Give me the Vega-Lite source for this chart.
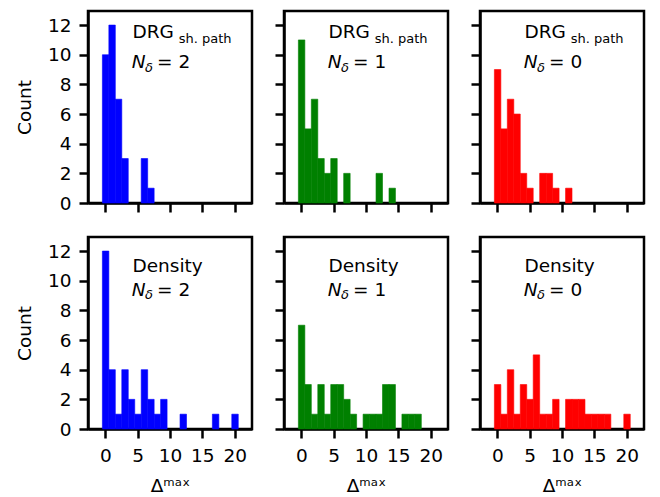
{
  "$schema": "https://vega.github.io/schema/vega-lite/v6.json",
  "padding": {"left": 14, "top": 9, "right": 5, "bottom": 5},
  "background": "white",
  "datasets": {
    "bins": [
      {"p": "TL", "lo": -0.45, "hi": 0.55, "n": 10},
      {"p": "TL", "lo": 0.55, "hi": 1.55, "n": 12},
      {"p": "TL", "lo": 1.55, "hi": 2.55, "n": 7},
      {"p": "TL", "lo": 2.55, "hi": 3.55, "n": 3},
      {"p": "TL", "lo": 5.55, "hi": 6.55, "n": 3},
      {"p": "TL", "lo": 6.55, "hi": 7.55, "n": 1},

      {"p": "TM", "lo": -0.45, "hi": 0.55, "n": 11},
      {"p": "TM", "lo": 0.55, "hi": 1.55, "n": 5},
      {"p": "TM", "lo": 1.55, "hi": 2.55, "n": 7},
      {"p": "TM", "lo": 2.55, "hi": 3.55, "n": 3},
      {"p": "TM", "lo": 3.55, "hi": 4.55, "n": 2},
      {"p": "TM", "lo": 4.55, "hi": 5.55, "n": 3},
      {"p": "TM", "lo": 6.55, "hi": 7.55, "n": 2},
      {"p": "TM", "lo": 11.55, "hi": 12.55, "n": 2},
      {"p": "TM", "lo": 13.55, "hi": 14.55, "n": 1},

      {"p": "TR", "lo": -0.45, "hi": 0.55, "n": 9},
      {"p": "TR", "lo": 0.55, "hi": 1.55, "n": 5},
      {"p": "TR", "lo": 1.55, "hi": 2.55, "n": 7},
      {"p": "TR", "lo": 2.55, "hi": 3.55, "n": 6},
      {"p": "TR", "lo": 3.55, "hi": 4.55, "n": 2},
      {"p": "TR", "lo": 4.55, "hi": 5.55, "n": 1},
      {"p": "TR", "lo": 6.55, "hi": 7.55, "n": 2},
      {"p": "TR", "lo": 7.55, "hi": 8.55, "n": 2},
      {"p": "TR", "lo": 8.55, "hi": 9.55, "n": 1},
      {"p": "TR", "lo": 10.55, "hi": 11.55, "n": 1},

      {"p": "BL", "lo": -0.45, "hi": 0.55, "n": 12},
      {"p": "BL", "lo": 0.55, "hi": 1.55, "n": 4},
      {"p": "BL", "lo": 1.55, "hi": 2.55, "n": 1},
      {"p": "BL", "lo": 2.55, "hi": 3.55, "n": 4},
      {"p": "BL", "lo": 3.55, "hi": 4.55, "n": 2},
      {"p": "BL", "lo": 4.55, "hi": 5.55, "n": 1},
      {"p": "BL", "lo": 5.55, "hi": 6.55, "n": 4},
      {"p": "BL", "lo": 6.55, "hi": 7.55, "n": 2},
      {"p": "BL", "lo": 7.55, "hi": 8.55, "n": 1},
      {"p": "BL", "lo": 8.55, "hi": 9.55, "n": 2},
      {"p": "BL", "lo": 11.55, "hi": 12.55, "n": 1},
      {"p": "BL", "lo": 16.55, "hi": 17.55, "n": 1},
      {"p": "BL", "lo": 19.55, "hi": 20.55, "n": 1},

      {"p": "BM", "lo": -0.45, "hi": 0.55, "n": 7},
      {"p": "BM", "lo": 0.55, "hi": 1.55, "n": 3},
      {"p": "BM", "lo": 1.55, "hi": 2.55, "n": 1},
      {"p": "BM", "lo": 2.55, "hi": 3.55, "n": 3},
      {"p": "BM", "lo": 3.55, "hi": 4.55, "n": 1},
      {"p": "BM", "lo": 4.55, "hi": 5.55, "n": 3},
      {"p": "BM", "lo": 5.55, "hi": 6.55, "n": 3},
      {"p": "BM", "lo": 6.55, "hi": 7.55, "n": 2},
      {"p": "BM", "lo": 7.55, "hi": 8.55, "n": 1},
      {"p": "BM", "lo": 9.55, "hi": 10.55, "n": 1},
      {"p": "BM", "lo": 10.55, "hi": 11.55, "n": 1},
      {"p": "BM", "lo": 11.55, "hi": 12.55, "n": 1},
      {"p": "BM", "lo": 12.55, "hi": 13.55, "n": 3},
      {"p": "BM", "lo": 13.55, "hi": 14.55, "n": 3},
      {"p": "BM", "lo": 15.55, "hi": 16.55, "n": 1},
      {"p": "BM", "lo": 16.55, "hi": 17.55, "n": 1},
      {"p": "BM", "lo": 17.55, "hi": 18.55, "n": 1},

      {"p": "BR", "lo": -0.45, "hi": 0.55, "n": 3},
      {"p": "BR", "lo": 0.55, "hi": 1.55, "n": 1},
      {"p": "BR", "lo": 1.55, "hi": 2.55, "n": 4},
      {"p": "BR", "lo": 2.55, "hi": 3.55, "n": 1},
      {"p": "BR", "lo": 3.55, "hi": 4.55, "n": 3},
      {"p": "BR", "lo": 4.55, "hi": 5.55, "n": 2},
      {"p": "BR", "lo": 5.55, "hi": 6.55, "n": 5},
      {"p": "BR", "lo": 6.55, "hi": 7.55, "n": 1},
      {"p": "BR", "lo": 7.55, "hi": 8.55, "n": 1},
      {"p": "BR", "lo": 8.55, "hi": 9.55, "n": 2},
      {"p": "BR", "lo": 10.55, "hi": 11.55, "n": 2},
      {"p": "BR", "lo": 11.55, "hi": 12.55, "n": 2},
      {"p": "BR", "lo": 12.55, "hi": 13.55, "n": 2},
      {"p": "BR", "lo": 13.55, "hi": 14.55, "n": 1},
      {"p": "BR", "lo": 14.55, "hi": 15.55, "n": 1},
      {"p": "BR", "lo": 15.55, "hi": 16.55, "n": 1},
      {"p": "BR", "lo": 16.55, "hi": 17.55, "n": 1},
      {"p": "BR", "lo": 19.55, "hi": 20.55, "n": 1}
    ],
    "notes": [
      {"p": "TL", "main": "DRG", "sub": "sh. path", "eq": "= 2"},
      {"p": "TM", "main": "DRG", "sub": "sh. path", "eq": "= 1"},
      {"p": "TR", "main": "DRG", "sub": "sh. path", "eq": "= 0"},
      {"p": "BL", "main": "Density", "sub": "", "eq": "= 2"},
      {"p": "BM", "main": "Density", "sub": "", "eq": "= 1"},
      {"p": "BR", "main": "Density", "sub": "", "eq": "= 0"}
    ]
  },
  "columns": 3,
  "spacing": {"row": 34, "column": 32},
  "bounds": "flush",
  "concat": [
    {
      "width": 164, "height": 192,
      "layer": [
        {"data": {"name": "bins"}, "transform": [{"filter": "datum.p === 'TL'"}],
         "mark": {"type": "bar", "color": "#0000ff", "stroke": "#0000ff", "strokeWidth": 0.6, "orient": "vertical"},
         "encoding": {
           "x": {"field": "lo", "type": "quantitative", "scale": {"domain": [-1.9, 21.9], "nice": false, "zero": false},
                 "axis": {"values": [0, 5, 10, 15, 20], "labels": false, "title": null}},
           "x2": {"field": "hi"},
           "y": {"field": "n", "type": "quantitative", "scale": {"domain": [0, 12.95], "nice": false},
                 "axis": {"values": [0, 2, 4, 6, 8, 10, 12], "title": "Count"}},
           "y2": {"datum": 0}}},
        {"data": {"name": "notes"}, "transform": [{"filter": "datum.p === 'TL'"}],
         "mark": {"type": "text", "align": "left", "baseline": "alphabetic", "fontSize": 18.5},
         "encoding": {"x": {"datum": 4.2, "axis": {"values": [0, 5, 10, 15, 20], "labels": false, "title": null}},
                      "y": {"datum": 11.1, "axis": {"values": [0, 2, 4, 6, 8, 10, 12], "title": "Count"}},
                      "text": {"field": "main"}}},
        {"data": {"name": "notes"}, "transform": [{"filter": "datum.p === 'TL'"}],
         "mark": {"type": "text", "align": "left", "baseline": "alphabetic", "fontSize": 13},
         "encoding": {"x": {"datum": 11.35, "axis": {"values": [0, 5, 10, 15, 20], "labels": false, "title": null}},
                      "y": {"datum": 10.8, "axis": {"values": [0, 2, 4, 6, 8, 10, 12], "title": "Count"}},
                      "text": {"field": "sub"}}},
        {"data": {"name": "notes"}, "transform": [{"filter": "datum.p === 'TL'"}],
         "mark": {"type": "text", "align": "left", "baseline": "alphabetic", "fontSize": 18.5, "fontStyle": "italic"},
         "encoding": {"x": {"datum": 4.1, "axis": {"values": [0, 5, 10, 15, 20], "labels": false, "title": null}},
                      "y": {"datum": 9.1, "axis": {"values": [0, 2, 4, 6, 8, 10, 12], "title": "Count"}},
                      "text": {"value": "N"}}},
        {"data": {"name": "notes"}, "transform": [{"filter": "datum.p === 'TL'"}],
         "mark": {"type": "text", "align": "left", "baseline": "alphabetic", "fontSize": 13, "fontStyle": "italic"},
         "encoding": {"x": {"datum": 6.15, "axis": {"values": [0, 5, 10, 15, 20], "labels": false, "title": null}},
                      "y": {"datum": 8.85, "axis": {"values": [0, 2, 4, 6, 8, 10, 12], "title": "Count"}},
                      "text": {"value": "δ"}}},
        {"data": {"name": "notes"}, "transform": [{"filter": "datum.p === 'TL'"}],
         "mark": {"type": "text", "align": "left", "baseline": "alphabetic", "fontSize": 18.5},
         "encoding": {"x": {"datum": 8.0, "axis": {"values": [0, 5, 10, 15, 20], "labels": false, "title": null}},
                      "y": {"datum": 9.1, "axis": {"values": [0, 2, 4, 6, 8, 10, 12], "title": "Count"}},
                      "text": {"field": "eq"}}}
      ]
    },
    {
      "width": 164, "height": 192,
      "layer": [
        {"data": {"name": "bins"}, "transform": [{"filter": "datum.p === 'TM'"}],
         "mark": {"type": "bar", "color": "#008000", "stroke": "#008000", "strokeWidth": 0.6, "orient": "vertical"},
         "encoding": {
           "x": {"field": "lo", "type": "quantitative", "scale": {"domain": [-1.9, 21.9], "nice": false, "zero": false},
                 "axis": {"values": [0, 5, 10, 15, 20], "labels": false, "title": null}},
           "x2": {"field": "hi"},
           "y": {"field": "n", "type": "quantitative", "scale": {"domain": [0, 12.95], "nice": false},
                 "axis": {"values": [0, 2, 4, 6, 8, 10, 12], "labels": false, "title": null}},
           "y2": {"datum": 0}}},
        {"data": {"name": "notes"}, "transform": [{"filter": "datum.p === 'TM'"}],
         "mark": {"type": "text", "align": "left", "baseline": "alphabetic", "fontSize": 18.5},
         "encoding": {"x": {"datum": 4.2, "axis": {"values": [0, 5, 10, 15, 20], "labels": false, "title": null}},
                      "y": {"datum": 11.1, "axis": {"values": [0, 2, 4, 6, 8, 10, 12], "labels": false, "title": null}},
                      "text": {"field": "main"}}},
        {"data": {"name": "notes"}, "transform": [{"filter": "datum.p === 'TM'"}],
         "mark": {"type": "text", "align": "left", "baseline": "alphabetic", "fontSize": 13},
         "encoding": {"x": {"datum": 11.35, "axis": {"values": [0, 5, 10, 15, 20], "labels": false, "title": null}},
                      "y": {"datum": 10.8, "axis": {"values": [0, 2, 4, 6, 8, 10, 12], "labels": false, "title": null}},
                      "text": {"field": "sub"}}},
        {"data": {"name": "notes"}, "transform": [{"filter": "datum.p === 'TM'"}],
         "mark": {"type": "text", "align": "left", "baseline": "alphabetic", "fontSize": 18.5, "fontStyle": "italic"},
         "encoding": {"x": {"datum": 4.1, "axis": {"values": [0, 5, 10, 15, 20], "labels": false, "title": null}},
                      "y": {"datum": 9.1, "axis": {"values": [0, 2, 4, 6, 8, 10, 12], "labels": false, "title": null}},
                      "text": {"value": "N"}}},
        {"data": {"name": "notes"}, "transform": [{"filter": "datum.p === 'TM'"}],
         "mark": {"type": "text", "align": "left", "baseline": "alphabetic", "fontSize": 13, "fontStyle": "italic"},
         "encoding": {"x": {"datum": 6.15, "axis": {"values": [0, 5, 10, 15, 20], "labels": false, "title": null}},
                      "y": {"datum": 8.85, "axis": {"values": [0, 2, 4, 6, 8, 10, 12], "labels": false, "title": null}},
                      "text": {"value": "δ"}}},
        {"data": {"name": "notes"}, "transform": [{"filter": "datum.p === 'TM'"}],
         "mark": {"type": "text", "align": "left", "baseline": "alphabetic", "fontSize": 18.5},
         "encoding": {"x": {"datum": 8.0, "axis": {"values": [0, 5, 10, 15, 20], "labels": false, "title": null}},
                      "y": {"datum": 9.1, "axis": {"values": [0, 2, 4, 6, 8, 10, 12], "labels": false, "title": null}},
                      "text": {"field": "eq"}}}
      ]
    },
    {
      "width": 164, "height": 192,
      "layer": [
        {"data": {"name": "bins"}, "transform": [{"filter": "datum.p === 'TR'"}],
         "mark": {"type": "bar", "color": "#ff0000", "stroke": "#ff0000", "strokeWidth": 0.6, "orient": "vertical"},
         "encoding": {
           "x": {"field": "lo", "type": "quantitative", "scale": {"domain": [-1.9, 21.9], "nice": false, "zero": false},
                 "axis": {"values": [0, 5, 10, 15, 20], "labels": false, "title": null}},
           "x2": {"field": "hi"},
           "y": {"field": "n", "type": "quantitative", "scale": {"domain": [0, 12.95], "nice": false},
                 "axis": {"values": [0, 2, 4, 6, 8, 10, 12], "labels": false, "title": null}},
           "y2": {"datum": 0}}},
        {"data": {"name": "notes"}, "transform": [{"filter": "datum.p === 'TR'"}],
         "mark": {"type": "text", "align": "left", "baseline": "alphabetic", "fontSize": 18.5},
         "encoding": {"x": {"datum": 4.2, "axis": {"values": [0, 5, 10, 15, 20], "labels": false, "title": null}},
                      "y": {"datum": 11.1, "axis": {"values": [0, 2, 4, 6, 8, 10, 12], "labels": false, "title": null}},
                      "text": {"field": "main"}}},
        {"data": {"name": "notes"}, "transform": [{"filter": "datum.p === 'TR'"}],
         "mark": {"type": "text", "align": "left", "baseline": "alphabetic", "fontSize": 13},
         "encoding": {"x": {"datum": 11.35, "axis": {"values": [0, 5, 10, 15, 20], "labels": false, "title": null}},
                      "y": {"datum": 10.8, "axis": {"values": [0, 2, 4, 6, 8, 10, 12], "labels": false, "title": null}},
                      "text": {"field": "sub"}}},
        {"data": {"name": "notes"}, "transform": [{"filter": "datum.p === 'TR'"}],
         "mark": {"type": "text", "align": "left", "baseline": "alphabetic", "fontSize": 18.5, "fontStyle": "italic"},
         "encoding": {"x": {"datum": 4.1, "axis": {"values": [0, 5, 10, 15, 20], "labels": false, "title": null}},
                      "y": {"datum": 9.1, "axis": {"values": [0, 2, 4, 6, 8, 10, 12], "labels": false, "title": null}},
                      "text": {"value": "N"}}},
        {"data": {"name": "notes"}, "transform": [{"filter": "datum.p === 'TR'"}],
         "mark": {"type": "text", "align": "left", "baseline": "alphabetic", "fontSize": 13, "fontStyle": "italic"},
         "encoding": {"x": {"datum": 6.15, "axis": {"values": [0, 5, 10, 15, 20], "labels": false, "title": null}},
                      "y": {"datum": 8.85, "axis": {"values": [0, 2, 4, 6, 8, 10, 12], "labels": false, "title": null}},
                      "text": {"value": "δ"}}},
        {"data": {"name": "notes"}, "transform": [{"filter": "datum.p === 'TR'"}],
         "mark": {"type": "text", "align": "left", "baseline": "alphabetic", "fontSize": 18.5},
         "encoding": {"x": {"datum": 8.0, "axis": {"values": [0, 5, 10, 15, 20], "labels": false, "title": null}},
                      "y": {"datum": 9.1, "axis": {"values": [0, 2, 4, 6, 8, 10, 12], "labels": false, "title": null}},
                      "text": {"field": "eq"}}}
      ]
    },
    {
      "width": 164, "height": 192,
      "layer": [
        {"data": {"name": "bins"}, "transform": [{"filter": "datum.p === 'BL'"}],
         "mark": {"type": "bar", "color": "#0000ff", "stroke": "#0000ff", "strokeWidth": 0.6, "orient": "vertical"},
         "encoding": {
           "x": {"field": "lo", "type": "quantitative", "scale": {"domain": [-1.9, 21.9], "nice": false, "zero": false},
                 "axis": {"values": [0, 5, 10, 15, 20], "title": "Δᵐᵃˣ"}},
           "x2": {"field": "hi"},
           "y": {"field": "n", "type": "quantitative", "scale": {"domain": [0, 12.95], "nice": false},
                 "axis": {"values": [0, 2, 4, 6, 8, 10, 12], "title": "Count"}},
           "y2": {"datum": 0}}},
        {"data": {"name": "notes"}, "transform": [{"filter": "datum.p === 'BL'"}],
         "mark": {"type": "text", "align": "left", "baseline": "alphabetic", "fontSize": 18.5},
         "encoding": {"x": {"datum": 4.2, "axis": {"values": [0, 5, 10, 15, 20], "title": "Δᵐᵃˣ"}},
                      "y": {"datum": 10.6, "axis": {"values": [0, 2, 4, 6, 8, 10, 12], "title": "Count"}},
                      "text": {"field": "main"}}},
        {"data": {"name": "notes"}, "transform": [{"filter": "datum.p === 'BL'"}],
         "mark": {"type": "text", "align": "left", "baseline": "alphabetic", "fontSize": 18.5, "fontStyle": "italic"},
         "encoding": {"x": {"datum": 4.1, "axis": {"values": [0, 5, 10, 15, 20], "title": "Δᵐᵃˣ"}},
                      "y": {"datum": 9.0, "axis": {"values": [0, 2, 4, 6, 8, 10, 12], "title": "Count"}},
                      "text": {"value": "N"}}},
        {"data": {"name": "notes"}, "transform": [{"filter": "datum.p === 'BL'"}],
         "mark": {"type": "text", "align": "left", "baseline": "alphabetic", "fontSize": 13, "fontStyle": "italic"},
         "encoding": {"x": {"datum": 6.15, "axis": {"values": [0, 5, 10, 15, 20], "title": "Δᵐᵃˣ"}},
                      "y": {"datum": 8.75, "axis": {"values": [0, 2, 4, 6, 8, 10, 12], "title": "Count"}},
                      "text": {"value": "δ"}}},
        {"data": {"name": "notes"}, "transform": [{"filter": "datum.p === 'BL'"}],
         "mark": {"type": "text", "align": "left", "baseline": "alphabetic", "fontSize": 18.5},
         "encoding": {"x": {"datum": 8.0, "axis": {"values": [0, 5, 10, 15, 20], "title": "Δᵐᵃˣ"}},
                      "y": {"datum": 9.0, "axis": {"values": [0, 2, 4, 6, 8, 10, 12], "title": "Count"}},
                      "text": {"field": "eq"}}}
      ]
    },
    {
      "width": 164, "height": 192,
      "layer": [
        {"data": {"name": "bins"}, "transform": [{"filter": "datum.p === 'BM'"}],
         "mark": {"type": "bar", "color": "#008000", "stroke": "#008000", "strokeWidth": 0.6, "orient": "vertical"},
         "encoding": {
           "x": {"field": "lo", "type": "quantitative", "scale": {"domain": [-1.9, 21.9], "nice": false, "zero": false},
                 "axis": {"values": [0, 5, 10, 15, 20], "title": "Δᵐᵃˣ"}},
           "x2": {"field": "hi"},
           "y": {"field": "n", "type": "quantitative", "scale": {"domain": [0, 12.95], "nice": false},
                 "axis": {"values": [0, 2, 4, 6, 8, 10, 12], "labels": false, "title": null}},
           "y2": {"datum": 0}}},
        {"data": {"name": "notes"}, "transform": [{"filter": "datum.p === 'BM'"}],
         "mark": {"type": "text", "align": "left", "baseline": "alphabetic", "fontSize": 18.5},
         "encoding": {"x": {"datum": 4.2, "axis": {"values": [0, 5, 10, 15, 20], "title": "Δᵐᵃˣ"}},
                      "y": {"datum": 10.6, "axis": {"values": [0, 2, 4, 6, 8, 10, 12], "labels": false, "title": null}},
                      "text": {"field": "main"}}},
        {"data": {"name": "notes"}, "transform": [{"filter": "datum.p === 'BM'"}],
         "mark": {"type": "text", "align": "left", "baseline": "alphabetic", "fontSize": 18.5, "fontStyle": "italic"},
         "encoding": {"x": {"datum": 4.1, "axis": {"values": [0, 5, 10, 15, 20], "title": "Δᵐᵃˣ"}},
                      "y": {"datum": 9.0, "axis": {"values": [0, 2, 4, 6, 8, 10, 12], "labels": false, "title": null}},
                      "text": {"value": "N"}}},
        {"data": {"name": "notes"}, "transform": [{"filter": "datum.p === 'BM'"}],
         "mark": {"type": "text", "align": "left", "baseline": "alphabetic", "fontSize": 13, "fontStyle": "italic"},
         "encoding": {"x": {"datum": 6.15, "axis": {"values": [0, 5, 10, 15, 20], "title": "Δᵐᵃˣ"}},
                      "y": {"datum": 8.75, "axis": {"values": [0, 2, 4, 6, 8, 10, 12], "labels": false, "title": null}},
                      "text": {"value": "δ"}}},
        {"data": {"name": "notes"}, "transform": [{"filter": "datum.p === 'BM'"}],
         "mark": {"type": "text", "align": "left", "baseline": "alphabetic", "fontSize": 18.5},
         "encoding": {"x": {"datum": 8.0, "axis": {"values": [0, 5, 10, 15, 20], "title": "Δᵐᵃˣ"}},
                      "y": {"datum": 9.0, "axis": {"values": [0, 2, 4, 6, 8, 10, 12], "labels": false, "title": null}},
                      "text": {"field": "eq"}}}
      ]
    },
    {
      "width": 164, "height": 192,
      "layer": [
        {"data": {"name": "bins"}, "transform": [{"filter": "datum.p === 'BR'"}],
         "mark": {"type": "bar", "color": "#ff0000", "stroke": "#ff0000", "strokeWidth": 0.6, "orient": "vertical"},
         "encoding": {
           "x": {"field": "lo", "type": "quantitative", "scale": {"domain": [-1.9, 21.9], "nice": false, "zero": false},
                 "axis": {"values": [0, 5, 10, 15, 20], "title": "Δᵐᵃˣ"}},
           "x2": {"field": "hi"},
           "y": {"field": "n", "type": "quantitative", "scale": {"domain": [0, 12.95], "nice": false},
                 "axis": {"values": [0, 2, 4, 6, 8, 10, 12], "labels": false, "title": null}},
           "y2": {"datum": 0}}},
        {"data": {"name": "notes"}, "transform": [{"filter": "datum.p === 'BR'"}],
         "mark": {"type": "text", "align": "left", "baseline": "alphabetic", "fontSize": 18.5},
         "encoding": {"x": {"datum": 4.2, "axis": {"values": [0, 5, 10, 15, 20], "title": "Δᵐᵃˣ"}},
                      "y": {"datum": 10.6, "axis": {"values": [0, 2, 4, 6, 8, 10, 12], "labels": false, "title": null}},
                      "text": {"field": "main"}}},
        {"data": {"name": "notes"}, "transform": [{"filter": "datum.p === 'BR'"}],
         "mark": {"type": "text", "align": "left", "baseline": "alphabetic", "fontSize": 18.5, "fontStyle": "italic"},
         "encoding": {"x": {"datum": 4.1, "axis": {"values": [0, 5, 10, 15, 20], "title": "Δᵐᵃˣ"}},
                      "y": {"datum": 9.0, "axis": {"values": [0, 2, 4, 6, 8, 10, 12], "labels": false, "title": null}},
                      "text": {"value": "N"}}},
        {"data": {"name": "notes"}, "transform": [{"filter": "datum.p === 'BR'"}],
         "mark": {"type": "text", "align": "left", "baseline": "alphabetic", "fontSize": 13, "fontStyle": "italic"},
         "encoding": {"x": {"datum": 6.15, "axis": {"values": [0, 5, 10, 15, 20], "title": "Δᵐᵃˣ"}},
                      "y": {"datum": 8.75, "axis": {"values": [0, 2, 4, 6, 8, 10, 12], "labels": false, "title": null}},
                      "text": {"value": "δ"}}},
        {"data": {"name": "notes"}, "transform": [{"filter": "datum.p === 'BR'"}],
         "mark": {"type": "text", "align": "left", "baseline": "alphabetic", "fontSize": 18.5},
         "encoding": {"x": {"datum": 8.0, "axis": {"values": [0, 5, 10, 15, 20], "title": "Δᵐᵃˣ"}},
                      "y": {"datum": 9.0, "axis": {"values": [0, 2, 4, 6, 8, 10, 12], "labels": false, "title": null}},
                      "text": {"field": "eq"}}}
      ]
    }
  ],
  "config": {
    "font": "DejaVu Sans",
    "view": {"stroke": "black", "strokeWidth": 2.5},
    "text": {"font": "DejaVu Sans", "color": "black"},
    "axis": {
      "grid": false,
      "domain": true,
      "domainColor": "black",
      "domainWidth": 2.5,
      "ticks": true,
      "tickColor": "black",
      "tickWidth": 2.5,
      "tickSize": 9,
      "labelFont": "DejaVu Sans",
      "labelFontSize": 18.5,
      "labelColor": "black",
      "labelFlush": false,
      "labelOverlap": false,
      "titleFont": "DejaVu Sans",
      "titleFontSize": 18.5,
      "titleFontWeight": "normal",
      "titleColor": "black",
      "zindex": 1
    },
    "axisY": {"labelPadding": 8, "titlePadding": 13},
    "axisX": {"labelPadding": 8, "titlePadding": 12}
  }
}
